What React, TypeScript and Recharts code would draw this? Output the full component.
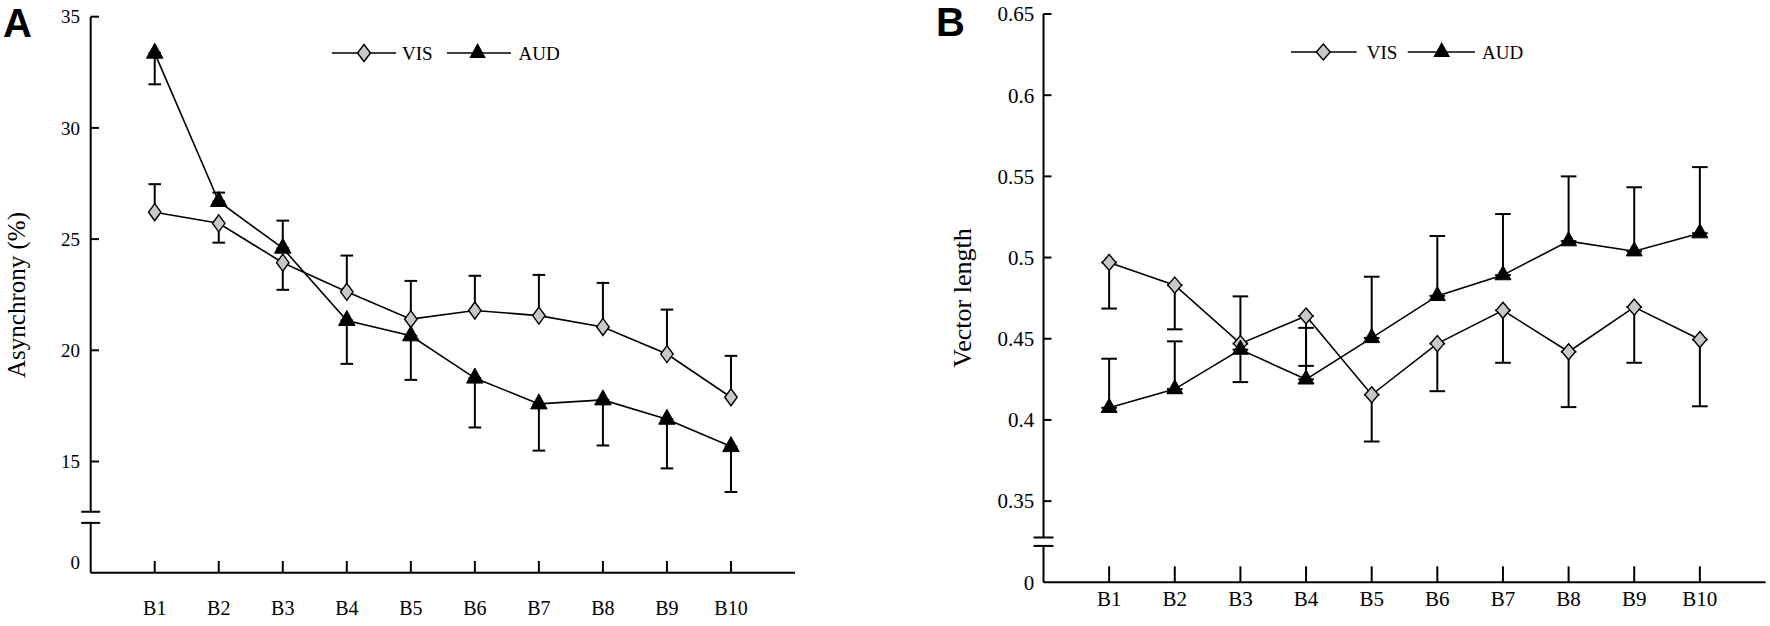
import React from 'react';
import { LineChart, Line, XAxis, YAxis, ErrorBar, ReferenceLine, Legend, Label } from 'recharts';

const blocks = ['B1', 'B2', 'B3', 'B4', 'B5', 'B6', 'B7', 'B8', 'B9', 'B10'];

// Panel A: asynchrony (%)
const visAsync = [26.21, 25.71, 23.94, 22.63, 21.4, 21.79, 21.56, 21.05, 19.83, 17.89];
const visAsyncLow = [0, 0.87, 1.22, 0, 0, 0, 0, 0, 0, 0];
const visAsyncHigh = [1.26, 0, 0, 1.63, 1.72, 1.56, 1.83, 1.98, 2.0, 1.86];
const audAsync = [33.36, 26.69, 24.59, 21.34, 20.65, 18.75, 17.59, 17.77, 16.9, 15.67];
const audAsyncLow = [1.4, 0, 0, 1.95, 1.98, 2.22, 2.1, 2.05, 2.21, 2.04];
const audAsyncHigh = [0, 0.4, 1.24, 0, 0, 0, 0, 0, 0, 0];
const asyncTicks = [10, 15, 20, 25, 30, 35]; // 10 sits below the break and reads "0"

// Panel B: vector length
const visVector = [0.497, 0.483, 0.447, 0.464, 0.4155, 0.447, 0.4675, 0.442, 0.4695, 0.4495];
const visVectorLow = [0.0284, 0.0272, 0.0237, 0.0307, 0.0288, 0.0293, 0.0323, 0.0341, 0.0343, 0.0411];
const audVector = [0.4075, 0.419, 0.4433, 0.425, 0.4505, 0.4764, 0.4892, 0.5101, 0.5039, 0.515];
const audVectorHigh = [0.0302, 0.0294, 0.0328, 0.0317, 0.0377, 0.0369, 0.0376, 0.0399, 0.0394, 0.0407];
const vectorTicks = [0.3, 0.35, 0.4, 0.45, 0.5, 0.55, 0.6, 0.65]; // 0.3 reads "0"

const SERIF = '"Liberation Serif", "Times New Roman", serif';
const SANS = '"Liberation Sans", Arial, sans-serif';
const xTicks = blocks.map((_, i) => i + 1);

const rowsA = blocks.map((name, i) => ({
  x: i + 1,
  name,
  vis: visAsync[i],
  visErr: [visAsyncLow[i], visAsyncHigh[i]],
  aud: audAsync[i],
  audErr: [audAsyncLow[i], audAsyncHigh[i]],
}));

const rowsB = blocks.map((name, i) => ({
  x: i + 1,
  name,
  vis: visVector[i],
  visErr: [visVectorLow[i], 0],
  aud: audVector[i],
  audErr: [0, audVectorHigh[i]],
}));

const diamondDot = (hw: number, hh: number, tag: string) => (props: any) => {
  const { cx, cy, index } = props;
  if (cx == null || cy == null) return <g key={`${tag}${index}`} />;
  return (
    <polygon
      key={`${tag}${index}`}
      points={`${cx},${cy - hh} ${cx + hw},${cy} ${cx},${cy + hh} ${cx - hw},${cy}`}
      fill="#c8c8c8"
      stroke="#000"
      strokeWidth={1.4}
    />
  );
};

const triangleDot = (w: number, h: number, tag: string) => (props: any) => {
  const { cx, cy, index } = props;
  if (cx == null || cy == null) return <g key={`${tag}${index}`} />;
  return (
    <polygon
      key={`${tag}${index}`}
      points={`${cx},${cy - (2 * h) / 3} ${cx + w / 2},${cy + h / 3} ${cx - w / 2},${cy + h / 3}`}
      fill="#000"
      stroke="#000"
      strokeWidth={1}
    />
  );
};

// ticks point inward, so the tick mark is drawn with the label
const xTick = (fontSize: number, tickLen: number, labelOffset: number) => (props: any) => {
  const { x, y, payload } = props;
  return (
    <g>
      <line x1={x} y1={y} x2={x} y2={y - tickLen} stroke="#000" strokeWidth={2} />
      <text x={x} y={y + labelOffset} dy="0.35em" textAnchor="middle" fontFamily={SERIF} fontSize={fontSize} fill="#000">
        {blocks[payload.value - 1]}
      </text>
    </g>
  );
};

const yTick = (fontSize: number, tickLen: number, gap: number, bottom: number, zeroShift: number) => (props: any) => {
  const { x, y, payload } = props;
  const v = payload.value;
  const isBottom = Math.abs(v - bottom) < 1e-9;
  return (
    <g>
      {!isBottom && <line x1={x} y1={y} x2={x + tickLen} y2={y} stroke="#000" strokeWidth={2} />}
      <text x={x - gap} y={y + (isBottom ? zeroShift : 0)} dy="0.35em" textAnchor="end" fontFamily={SERIF} fontSize={fontSize} fill="#000">
        {isBottom ? '0' : String(+v.toFixed(2))}
      </text>
    </g>
  );
};

function LegendKey({ visText, audText, audLine, audMark, visMark, hw, hh, tw, th }: any) {
  return (
    <svg width={260} height={30} style={{ display: 'block', overflow: 'visible' }}>
      <line x1={0} y1={15} x2={audLine[0] - 51} y2={15} stroke="#000" strokeWidth={1.6} />
      <polygon
        points={`${visMark},${15 - hh} ${visMark + hw},15 ${visMark},${15 + hh} ${visMark - hw},15`}
        fill="#c8c8c8"
        stroke="#000"
        strokeWidth={1.4}
      />
      <text x={visText} y={15} dy="0.35em" fontFamily={SERIF} fontSize={19} fill="#000">VIS</text>
      <line x1={audLine[0]} y1={15} x2={audLine[1]} y2={15} stroke="#000" strokeWidth={1.6} />
      <polygon
        points={`${audMark},${15 - (2 * th) / 3} ${audMark + tw / 2},${15 + th / 3} ${audMark - tw / 2},${15 + th / 3}`}
        fill="#000"
      />
      <text x={audText} y={15} dy="0.35em" fontFamily={SERIF} fontSize={19} fill="#000">AUD</text>
    </svg>
  );
}

export default function App() {
  return (
    <div style={{ position: 'absolute', left: 0, top: 0, width: 1770, height: 626, background: '#fff' }}>
      {/* Panel A */}
      <div style={{ position: 'absolute', left: 0, top: 0 }}>
        <LineChart width={840} height={626} data={rowsA} margin={{ top: 16.7, right: 45, bottom: 13.3, left: 30.7 }}>
          <XAxis
            type="number"
            dataKey="x"
            domain={[0, 11]}
            ticks={xTicks}
            interval={0}
            height={40}
            tickLine={false}
            tickSize={0}
            tickMargin={0}
            axisLine={{ stroke: '#000', strokeWidth: 2 }}
            tick={xTick(20, 11.7, 35)}
          />
          <YAxis
            type="number"
            domain={[10, 35]}
            ticks={asyncTicks}
            interval={0}
            width={60}
            axisLine={false}
            tickLine={false}
            tickSize={0}
            tickMargin={0}
            tick={yTick(19, 8.3, 10.7, 10, -10)}
          >
            <Label
              content={() => (
                <text transform="translate(25,295) rotate(-90)" textAnchor="middle" fontFamily={SERIF} fontSize={25} fill="#000">
                  Asynchrony (%)
                </text>
              )}
            />
          </YAxis>
          <ReferenceLine segment={[{ x: 0, y: 10 }, { x: 0, y: 12.24 }]} stroke="#000" strokeWidth={2} ifOverflow="visible" />
          <ReferenceLine segment={[{ x: 0, y: 12.74 }, { x: 0, y: 35 }]} stroke="#000" strokeWidth={2} ifOverflow="visible" />
          <ReferenceLine segment={[{ x: -0.148, y: 12.24 }, { x: 0.148, y: 12.24 }]} stroke="#000" strokeWidth={2} ifOverflow="visible" />
          <ReferenceLine segment={[{ x: -0.148, y: 12.74 }, { x: 0.148, y: 12.74 }]} stroke="#000" strokeWidth={2} ifOverflow="visible" />
          <Line
            dataKey="vis"
            name="VIS"
            stroke="#000"
            strokeWidth={1.6}
            type="linear"
            isAnimationActive={false}
            dot={diamondDot(6.2, 8.5, 'va')}
          >
            <ErrorBar dataKey="visErr" direction="y" width={6.3} stroke="#000" strokeWidth={2} isAnimationActive={false} />
          </Line>
          <Line
            dataKey="aud"
            name="AUD"
            stroke="#000"
            strokeWidth={1.6}
            type="linear"
            isAnimationActive={false}
            dot={triangleDot(16.5, 15, 'aa')}
          >
            <ErrorBar dataKey="audErr" direction="y" width={6.3} stroke="#000" strokeWidth={2} isAnimationActive={false} />
          </Line>
          <Legend
            verticalAlign="middle"
            align="center"
            wrapperStyle={{ position: 'absolute', top: 38.3, left: 332, width: 260, height: 30 }}
            content={() => (
              <LegendKey visMark={32} visText={70} audLine={[115, 179]} audMark={145.6} audText={186.6} hw={6.5} hh={8.5} tw={16.5} th={15} />
            )}
          />
        </LineChart>
      </div>

      {/* Panel B */}
      <div style={{ position: 'absolute', left: 840, top: 0 }}>
        <LineChart width={930} height={626} data={rowsB} margin={{ top: 14, right: 4.5, bottom: 3.7, left: 143.5 }}>
          <XAxis
            type="number"
            dataKey="x"
            domain={[0, 11]}
            ticks={xTicks}
            interval={0}
            height={40}
            tickLine={false}
            tickSize={0}
            tickMargin={0}
            axisLine={{ stroke: '#000', strokeWidth: 2 }}
            tick={xTick(21, 16, 16.4)}
          />
          <YAxis
            type="number"
            domain={[0.3, 0.65]}
            ticks={vectorTicks}
            interval={0}
            width={60}
            axisLine={false}
            tickLine={false}
            tickSize={0}
            tickMargin={0}
            tick={yTick(21, 8, 9.2, 0.3, 0)}
          >
            <Label
              content={() => (
                <text transform="translate(131,298) rotate(-90)" textAnchor="middle" fontFamily={SERIF} fontSize={26} fill="#000">
                  Vector length
                </text>
              )}
            />
          </YAxis>
          <ReferenceLine segment={[{ x: 0, y: 0.3 }, { x: 0, y: 0.3224 }]} stroke="#000" strokeWidth={2} ifOverflow="visible" />
          <ReferenceLine segment={[{ x: 0, y: 0.3276 }, { x: 0, y: 0.65 }]} stroke="#000" strokeWidth={2} ifOverflow="visible" />
          <ReferenceLine segment={[{ x: -0.152, y: 0.3224 }, { x: 0.152, y: 0.3224 }]} stroke="#000" strokeWidth={2} ifOverflow="visible" />
          <ReferenceLine segment={[{ x: -0.152, y: 0.3276 }, { x: 0.152, y: 0.3276 }]} stroke="#000" strokeWidth={2} ifOverflow="visible" />
          <Line
            dataKey="vis"
            name="VIS"
            stroke="#000"
            strokeWidth={1.6}
            type="linear"
            isAnimationActive={false}
            dot={diamondDot(6.8, 8, 'vb')}
          >
            <ErrorBar dataKey="visErr" direction="y" width={7.8} stroke="#000" strokeWidth={2} isAnimationActive={false} />
          </Line>
          <Line
            dataKey="aud"
            name="AUD"
            stroke="#000"
            strokeWidth={1.6}
            type="linear"
            isAnimationActive={false}
            dot={triangleDot(16, 14, 'ab')}
          >
            <ErrorBar dataKey="audErr" direction="y" width={7.8} stroke="#000" strokeWidth={2} isAnimationActive={false} />
          </Line>
          <Legend
            verticalAlign="middle"
            align="center"
            wrapperStyle={{ position: 'absolute', top: 36.7, left: 451, width: 260, height: 30 }}
            content={() => (
              <LegendKey visMark={32.3} visText={75.7} audLine={[116.7, 184]} audMark={150.7} audText={191} hw={7} hh={8} tw={16.7} th={15} />
            )}
          />
        </LineChart>
      </div>

      {/* panel letters */}
      <svg width={1770} height={626} style={{ position: 'absolute', left: 0, top: 0, pointerEvents: 'none' }}>
        <text x={3} y={37} fontFamily={SANS} fontWeight="bold" fontSize={40} fill="#000">A</text>
        <text x={936} y={36} fontFamily={SANS} fontWeight="bold" fontSize={40} fill="#000">B</text>
      </svg>
    </div>
  );
}
